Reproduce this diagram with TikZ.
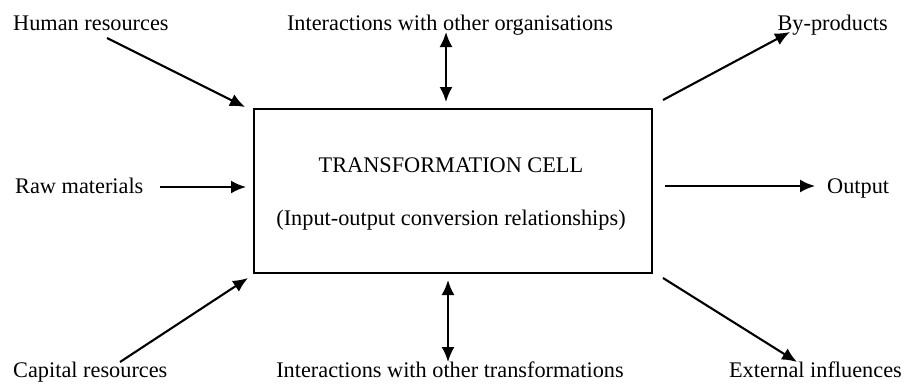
\documentclass[tikz,border=0pt]{standalone}
\usepackage{fontspec}
\setmainfont{Liberation Serif}
\usetikzlibrary{arrows.meta}
\begin{document}
\begin{tikzpicture}[x=1pt,y=-1pt,
  lbl/.style={inner sep=0pt,font=\fontsize{22.3}{26}\selectfont},
  conn/.style={line width=2.1pt,-{Latex[length=15pt,width=13pt]}},
  dconn/.style={line width=2.1pt,{Latex[length=15pt,width=13pt]}-{Latex[length=15pt,width=13pt]}}]
\useasboundingbox (0,0) rectangle (907,386);
\node[draw,line width=2.4pt,minimum width=398pt,minimum height=164pt,inner sep=0pt,anchor=north west] (cell) at (253,108) {};
\node[lbl,anchor=base] (t1) at (451,172) {TRANSFORMATION CELL};
\node[lbl,anchor=base] (t2) at (451,225) {(Input-output conversion relationships)};
\node[lbl,anchor=base west] (hr) at (13,30) {Human resources};
\node[lbl,anchor=base] (ioo) at (450,30) {Interactions with other organisations};
\node[lbl,anchor=base east] (bp) at (888,30) {By-products};
\node[lbl,anchor=base west] (rm) at (15,193) {Raw materials};
\node[lbl,anchor=base west] (out) at (827,193) {Output};
\node[lbl,anchor=base west] (cap) at (13,377) {Capital resources};
\node[lbl,anchor=base] (iot) at (450,377) {Interactions with other transformations};
\node[lbl,anchor=base east] (ext) at (902,377) {External influences};
\coordinate (hrS) at (107,38);   \coordinate (hrE) at (245,107);
\coordinate (rmS) at (160,187);  \coordinate (rmE) at (246,187);
\coordinate (capS) at (120,362); \coordinate (capE) at (248,278);
\coordinate (topS) at (446,32);  \coordinate (topE) at (446,102);
\coordinate (botS) at (448,280); \coordinate (botE) at (448,362);
\coordinate (bpS) at (663,100);  \coordinate (bpE) at (790,32);
\coordinate (outS) at (665,186); \coordinate (outE) at (815,186);
\coordinate (extS) at (663,278); \coordinate (extE) at (797,362);
\draw[conn] (hrS) -- (hrE);
\draw[conn] (rmS) -- (rmE);
\draw[conn] (capS) -- (capE);
\draw[dconn] (topS) -- (topE);
\draw[dconn] (botS) -- (botE);
\draw[conn] (bpS) -- (bpE);
\draw[conn] (outS) -- (outE);
\draw[conn] (extS) -- (extE);
\end{tikzpicture}
\end{document}
